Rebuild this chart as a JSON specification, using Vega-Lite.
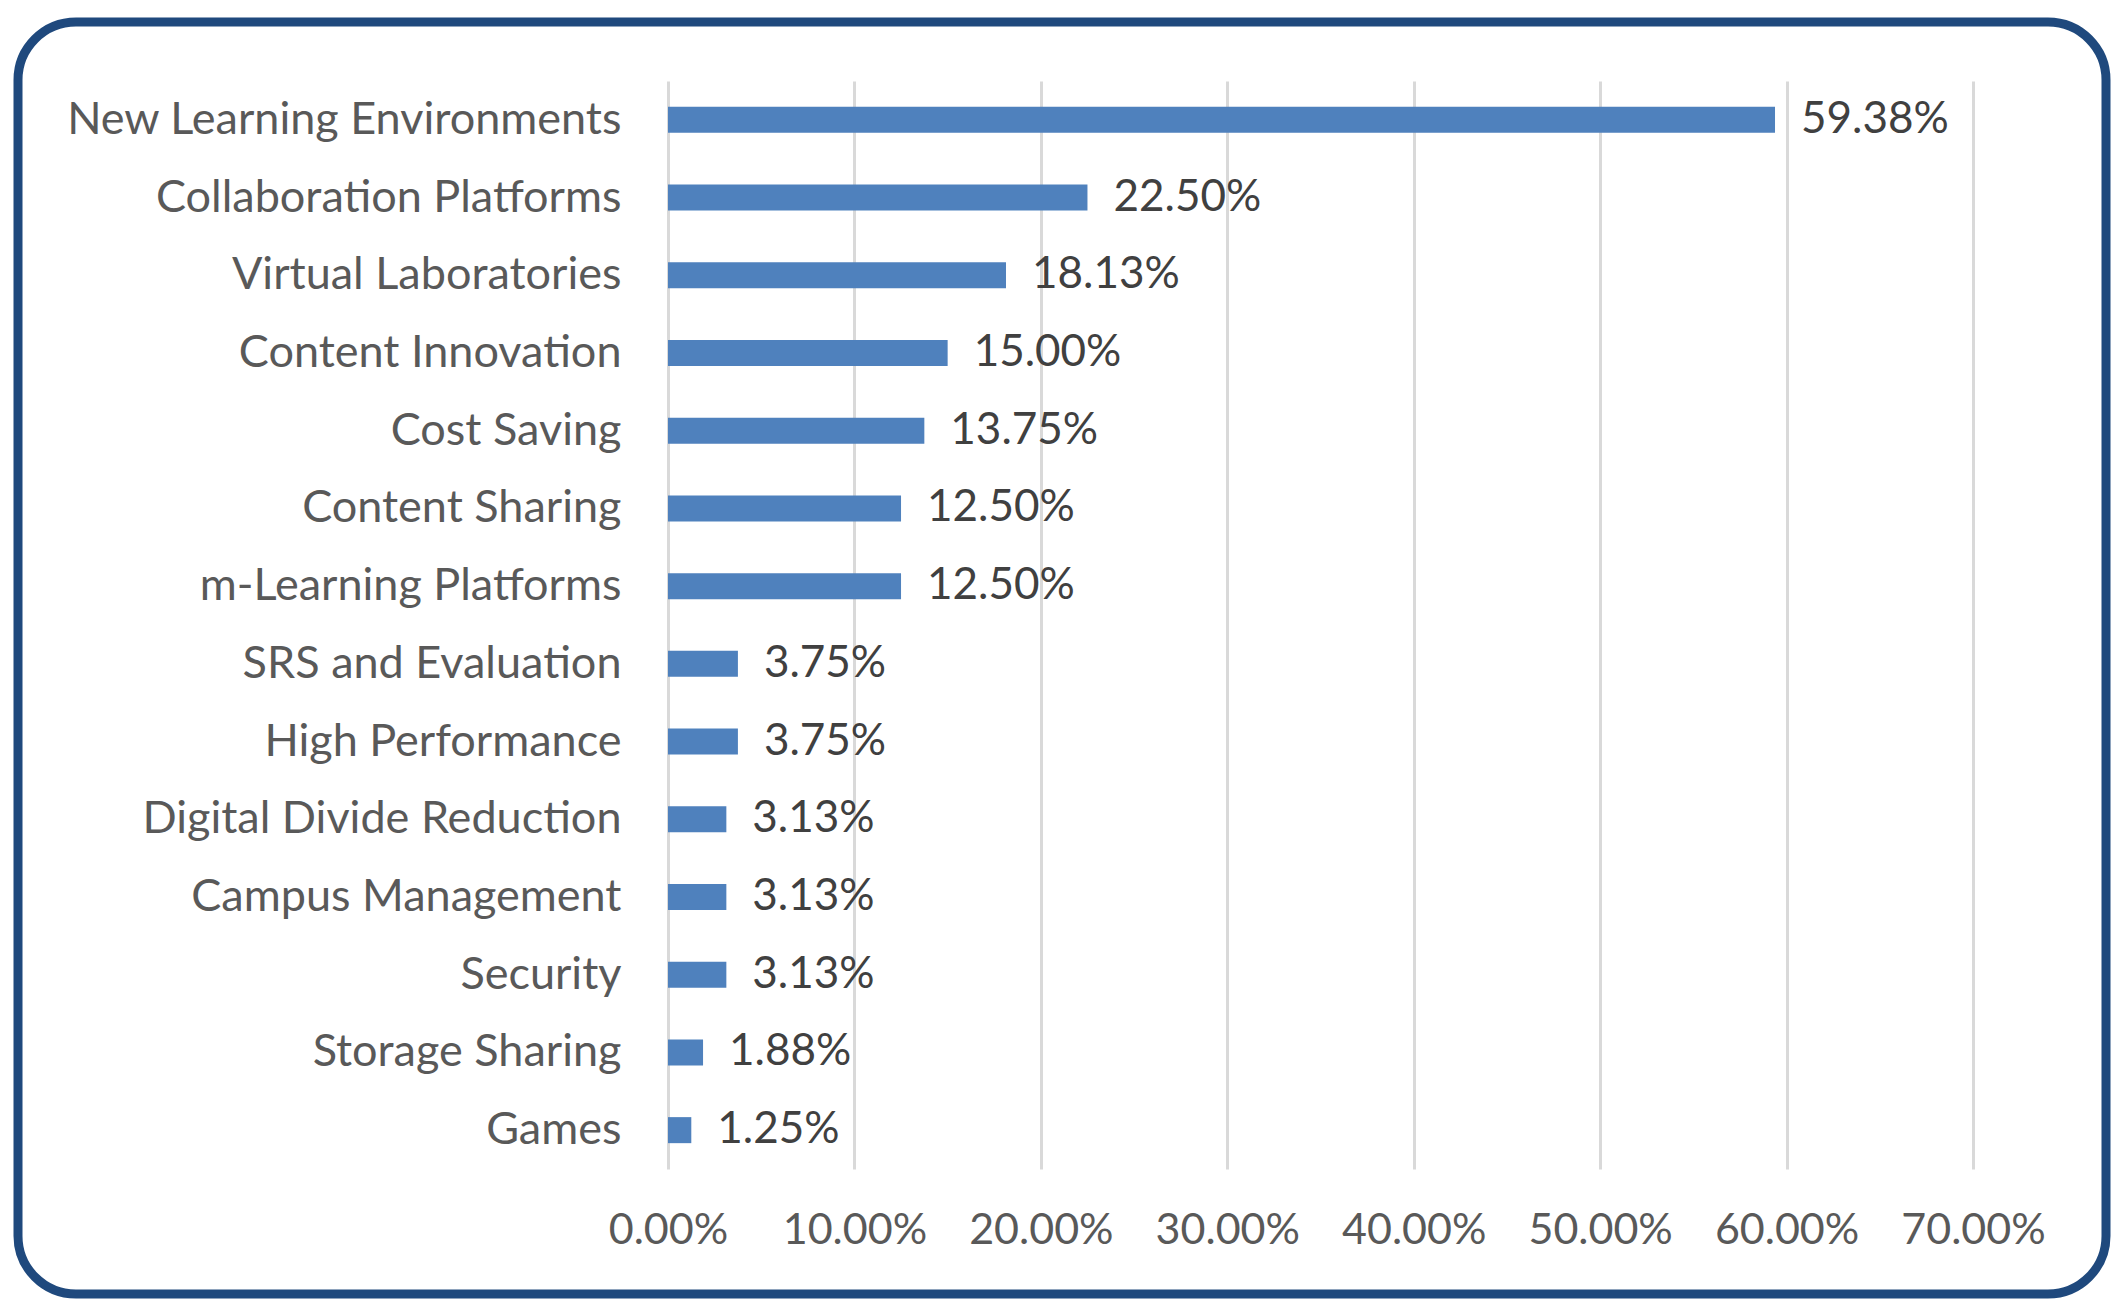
{
  "$schema": "https://vega.github.io/schema/vega-lite/v6.json",
  "width": 2088,
  "height": 1272,
  "autosize": "none",
  "padding": {"left": 18, "top": 22, "right": 22, "bottom": 21},
  "background": "white",
  "config": {
    "view": {"stroke": "#1F497D", "strokeWidth": 9, "cornerRadius": 58, "fill": "white"},
    "font": "Lato"
  },
  "data": {
    "values": [
      {"category": "New Learning Environments", "share": 0.5938},
      {"category": "Collaboration Platforms", "share": 0.225},
      {"category": "Virtual Laboratories", "share": 0.1813},
      {"category": "Content Innovation", "share": 0.15},
      {"category": "Cost Saving", "share": 0.1375},
      {"category": "Content Sharing", "share": 0.125},
      {"category": "m-Learning Platforms", "share": 0.125},
      {"category": "SRS and Evaluation", "share": 0.0375},
      {"category": "High Performance", "share": 0.0375},
      {"category": "Digital Divide Reduction", "share": 0.0313},
      {"category": "Campus Management", "share": 0.0313},
      {"category": "Security", "share": 0.0313},
      {"category": "Storage Sharing", "share": 0.0188},
      {"category": "Games", "share": 0.0125}
    ]
  },
  "encoding": {
    "y": {
      "field": "category",
      "type": "nominal",
      "sort": null,
      "scale": {"range": [59, 1147], "paddingInner": 0.665, "paddingOuter": 0.3325},
      "axis": {
        "title": null,
        "orient": "left",
        "offset": -650,
        "domain": false,
        "ticks": false,
        "grid": false,
        "labelPadding": 47,
        "labelFont": "Lato",
        "labelFontSize": 45,
        "labelColor": "#595959",
        "labelLimit": 0
      }
    },
    "x": {
      "field": "share",
      "type": "quantitative",
      "scale": {"domain": [0, 0.7], "range": [650, 1955], "nice": false},
      "axis": {
        "title": null,
        "orient": "top",
        "offset": -1221,
        "values": [0, 0.1, 0.2, 0.3, 0.4, 0.5, 0.6, 0.7],
        "format": ".2%",
        "domain": false,
        "ticks": false,
        "labelPadding": 0,
        "labelBaseline": "alphabetic",
        "labelFont": "Lato",
        "labelFontSize": 43,
        "labelColor": "#595959",
        "labelFlush": false,
        "labelOverlap": false,
        "grid": true,
        "gridColor": "#D9D9D9",
        "gridWidth": 3
      }
    }
  },
  "layer": [
    {"mark": {"type": "bar", "color": "#4F81BD"}},
    {
      "mark": {"type": "text", "align": "left", "baseline": "middle", "dx": 26, "font": "Lato", "fontSize": 44, "color": "#404040"},
      "encoding": {"text": {"field": "share", "type": "quantitative", "format": ".2%"}}
    }
  ]
}
